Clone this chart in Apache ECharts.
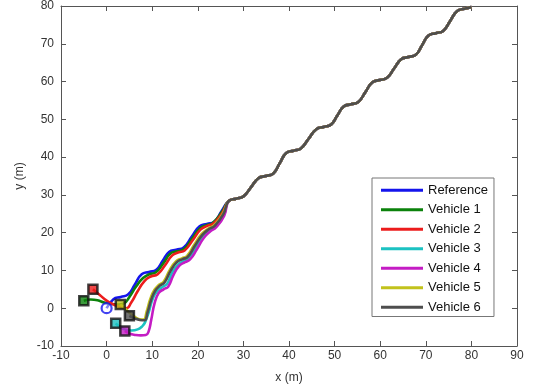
<!DOCTYPE html>
<html><head><meta charset="utf-8">
<script src="https://cdn.jsdelivr.net/npm/echarts@6/dist/echarts.min.js"></script>
<style>html,body{margin:0;padding:0;background:#fff}#c{width:540px;height:390px}</style>
</head><body><div id="c"></div>
<script>
const seriesNames = ['Reference','Vehicle 1','Vehicle 2','Vehicle 3','Vehicle 4','Vehicle 5','Vehicle 6'];
const xTicks = [-10,0,10,20,30,40,50,60,70,80,90];
const yTicks = [-10,0,10,20,30,40,50,60,70,80];
const xName = 'x (m)';
const yName = 'y (m)';

const reference = [[0,0],[1.5,2.4],[3.1,3.0],[4.7,3.6],[6.2,6.3],
 [7.7,9.0],[9.3,9.6],[10.9,10.2],[12.3,12.55],
 [13.7,14.9],[15.3,15.5],[16.9,16.1],[18.65,18.9],
 [20.4,21.7],[22.0,22.3],[23.6,22.9],[25.2,25.65],
 [26.8,28.4],[28.4,29.0],[30.0,29.6],[31.65,32.0],
 [33.3,34.4],[34.9,35.0],[36.5,35.6],[37.95,38.35],
 [39.4,41.1],[41.0,41.7],[42.6,42.3],[44.3,44.85],
 [46.0,47.4],[47.6,48.0],[49.2,48.6],[50.6,51.0],
 [52.0,53.4],[53.6,54.0],[55.2,54.6],[56.75,57.2],
 [58.3,59.8],[59.9,60.4],[61.5,61.0],[63.05,63.45],
 [64.6,65.9],[66.2,66.5],[67.8,67.1],[69.2,69.65],
 [70.6,72.2],[72.2,72.8],[73.8,73.4],[75.35,76.05],
 [76.9,78.7],[78.5,79.3],[80.0,79.7]];

const vehicle1Head = [[-5,2],[-3.5,2.3],[-2,2.1],[-0.5,1.5],[1,1.1],[2.5,1.0],[3.8,1.3],[5,3.0],[6.5,5.8],[8,8.0],[9.4,9.0],[10.8,9.5],[12.5,12.0],[14,14.5],[15.5,15.1],[16.8,15.5],[18.8,18.5],[20.5,21.2],[21.9,22.0],[23.2,22.5],[25.3,25.5]];
const vehicle2Head = [[-3,5],[-1.5,3.5],[0,2.0],[1.5,1.0],[3,0.3],[4.3,0.0],[5.4,1.5],[6.8,4.5],[8.3,7.2],[9.7,8.4],[11.2,9.0],[12.9,11.5],[14.4,14.0],[15.8,14.8],[17.1,15.3],[19.0,18.2],[20.6,20.8],[22.1,21.8],[23.4,22.4],[25.4,25.3]];
const vehicle3Head = [[2,-4],[3,-5],[4,-5.6],[5.5,-5.9],[6.8,-5.6],[7.8,-4.8],[8.4,-3.8],[9.2,-1.2],[10.2,2.8],[11.3,4.8],[12.5,5.8],[13.3,6.5],[14.4,9.4],[15.7,11.6],[17.0,12.5],[18.1,13.2],[19.6,16.0],[21.1,19.0],[22.5,20.6],[23.8,21.6],[25.7,24.7]];
const vehicle4Head = [[4,-6],[5,-6.7],[6,-7.0],[7.5,-7.2],[8.6,-7.1],[9.2,-6.2],[9.8,-3.0],[10.5,1.2],[11.4,4.0],[12.5,5.0],[13.5,5.7],[14.6,8.6],[15.9,11.2],[17.2,12.2],[18.3,12.9],[19.8,15.6],[21.3,18.6],[22.7,20.3],[24.0,21.4],[25.8,24.5]];
const vehicle5Head = [[3,1],[4,0],[5,-1.2],[6.2,-2.3],[7.2,-2.9],[8.1,-3.0],[8.8,-0.8],[9.6,2.5],[10.5,4.9],[11.5,6.2],[12.5,7.0],[13.8,10.0],[15.2,12.4],[16.5,13.2],[17.6,13.8],[19.2,16.8],[20.8,19.6],[22.3,21.1],[23.6,22.0],[25.5,25.0]];
const vehicle6Head = [[5,-2],[6.2,-2.7],[7.3,-3.1],[8.3,-3.2],[9.0,-1.0],[9.8,2.3],[10.7,4.7],[11.7,6.0],[12.7,6.8],[14.0,9.8],[15.4,12.2],[16.7,13.0],[17.8,13.6],[19.4,16.6],[21.0,19.4],[22.4,20.9],[23.7,21.8],[25.6,24.9]];

const tailStartX = 26.5;
const colors = ['#1414ec','#0b820b','#ec1c1c','#1cc2c2','#c41cc4','#c2c21c','#4e4e4e'];

const sharedTail = reference.filter(p => p[0] >= tailStartX);
const heads = [vehicle1Head, vehicle2Head, vehicle3Head, vehicle4Head, vehicle5Head, vehicle6Head];
const paths = [reference].concat(heads.map(h => h.concat(sharedTail)));

const font = 'Liberation Sans, Arial, sans-serif';
const lineSeries = paths.map((p, i) => ({
  name: seriesNames[i], type: 'line', data: p, showSymbol: false, smooth: 0.5,
  lineStyle: { color: colors[i], width: 2.6 }, itemStyle: { color: colors[i] }, z: 2 + i
}));
const markerSeries = heads.map((h, i) => ({
  type: 'scatter', data: [h[0]], symbol: 'rect', symbolSize: 9, z: 20,
  itemStyle: { color: colors[i + 1], borderColor: '#111', borderWidth: 2.5 }
}));
markerSeries.push({
  type: 'scatter', data: [reference[0]], symbol: 'circle', symbolSize: 10, z: 21,
  itemStyle: { color: 'rgba(255,255,255,0.6)', borderColor: colors[0], borderWidth: 2.2 }
});

const xMin = xTicks[0], xMax = xTicks[xTicks.length - 1], xStep = xTicks[1] - xTicks[0];
const yMin = yTicks[0], yMax = yTicks[yTicks.length - 1], yStep = yTicks[1] - yTicks[0];
const frameColor = '#555';
function axisBase(extra) {
  return Object.assign({
    type: 'value', splitLine: { show: false },
    axisLine: { show: true, onZero: false, lineStyle: { color: frameColor, width: 1 } },
    axisTick: { show: true, inside: true, length: 5, lineStyle: { color: frameColor } }
  }, extra);
}

const chart = echarts.init(document.getElementById('c'), null, { renderer: 'canvas' });
chart.setOption({
  animation: false,
  backgroundColor: '#fff',
  grid: { left: 61, right: 23, top: 6, bottom: 44, outerBoundsMode: 'none', containLabel: false },
  xAxis: [
    axisBase({ position: 'bottom', min: xMin, max: xMax, interval: xStep,
      name: xName, nameLocation: 'middle', nameGap: 26,
      nameTextStyle: { fontFamily: font, fontSize: 12, color: '#333' },
      axisLabel: { margin: 4, fontFamily: font, fontSize: 12, color: '#333' } }),
    axisBase({ position: 'top', min: xMin, max: xMax, interval: xStep, axisLabel: { show: false } })
  ],
  yAxis: [
    axisBase({ position: 'left', min: yMin, max: yMax, interval: yStep,
      name: yName, nameLocation: 'middle', nameGap: 34, nameRotate: 90,
      nameTextStyle: { fontFamily: font, fontSize: 12, color: '#333' },
      axisLabel: { margin: 7, fontFamily: font, fontSize: 12, color: '#333' } }),
    axisBase({ position: 'right', min: yMin, max: yMax, interval: yStep, axisLabel: { show: false } })
  ],
  legend: {
    data: seriesNames, orient: 'vertical', left: 372, top: 178,
    padding: [5, 6, 2, 9], itemGap: 5, itemWidth: 42, itemHeight: 3, icon: 'rect',
    borderColor: '#777', borderWidth: 1, backgroundColor: '#fff',
    textStyle: { fontFamily: font, fontSize: 13, color: '#111', lineHeight: 14.5 }
  },
  series: lineSeries.concat(markerSeries)
});
</script></body></html>
